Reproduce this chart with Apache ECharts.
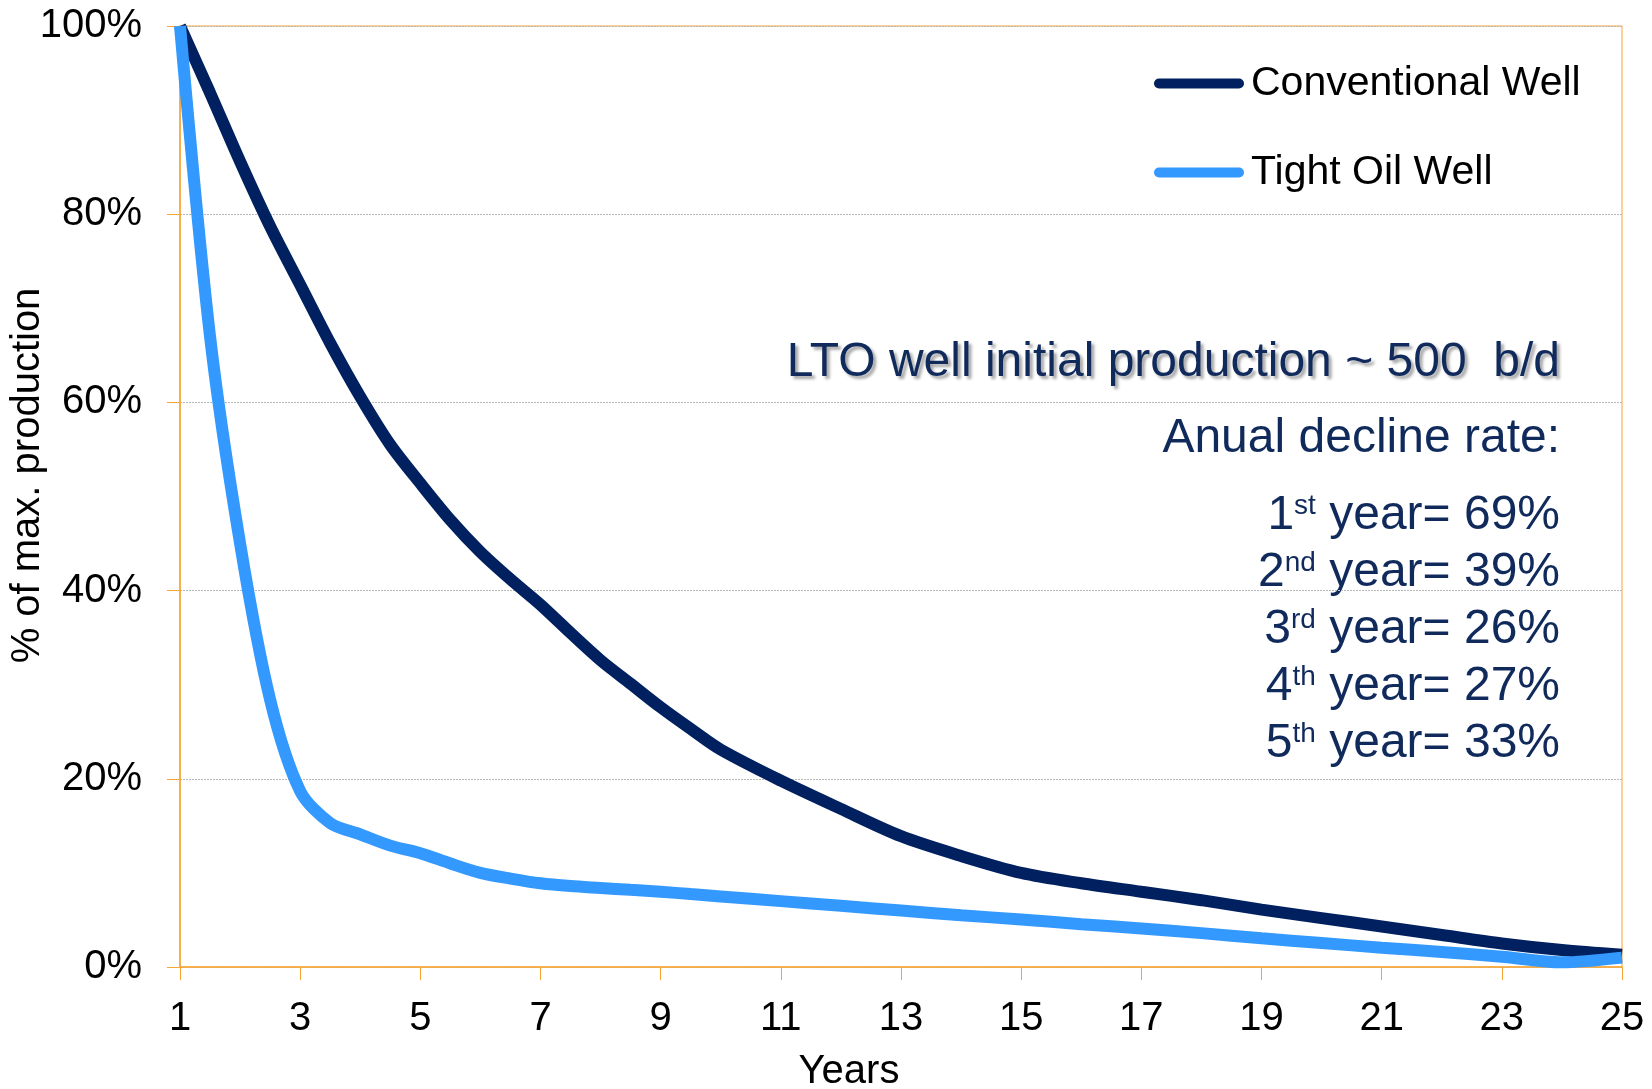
<!DOCTYPE html>
<html>
<head>
<meta charset="utf-8">
<script src="https://cdn.jsdelivr.net/npm/echarts@6/dist/echarts.min.js"></script>
<style>
  html, body { margin: 0; padding: 0; background: #fff; }
  #chart { width: 1652px; height: 1089px; }
</style>
</head>
<body>
<div id="chart"></div>
<script>
// ---- data ----
const years = [1, 1.5, 2, 2.5, 3, 3.5, 4, 4.5, 5, 5.5, 6, 6.5, 7, 7.5, 8, 8.5, 9, 9.5, 10,
               11, 12, 13, 14, 15, 16, 17, 18, 19, 20, 21, 22, 23, 24, 25];
const conventionalWell = [100, 92.9, 85.6, 78.7, 72.5, 66.3, 60.6, 55.5, 51.4, 47.5, 44.1, 41.2, 38.5, 35.5, 32.6, 30.1, 27.6, 25.3, 23.1,
               19.8, 16.8, 13.9, 11.8, 10.0, 8.9, 8.0, 7.1, 6.1, 5.2, 4.3, 3.4, 2.5, 1.8, 1.3];
const tightOilWell = [100, 67, 45, 28.4, 18.7, 15.3, 14.1, 12.9, 12.1, 11.0, 10.0, 9.4, 8.9, 8.6, 8.4, 8.2, 8.0, 7.75, 7.5,
               7.0, 6.5, 6.0, 5.5, 5.05, 4.55, 4.1, 3.6, 3.05, 2.55, 2.05, 1.6, 1.1, 0.5, 1.0];
const xTickYears = [1, 3, 5, 7, 9, 11, 13, 15, 17, 19, 21, 23, 25];
const seriesNames = ['Conventional Well', 'Tight Oil Well'];
const noteTitle = 'LTO well initial production ~ 500  b/d';
const noteSub = 'Anual decline rate:';
const declineOrd = ['1', '2', '3', '4', '5'];
const declineSup = ['st', 'nd', 'rd', 'th', 'th'];
const declineRate = [69, 39, 26, 27, 33];

const FONT = "'Liberation Sans', Arial, Helvetica, sans-serif";
const ORANGE = '#f9a533';
const NAVY = '#002060';
const BLUE = '#3399ff';
const NOTE = '#112a5c';

const chart = echarts.init(document.getElementById('chart'));

const pairs = (ys) => years.map((x, i) => [x, ys[i]]);

const graphics = [];
graphics.push({
  type: 'text', x: 1560, y: 363,
  style: {
    text: noteTitle, align: 'right', verticalAlign: 'middle',
    font: '48px ' + FONT, fill: NOTE,
    textShadowColor: 'rgba(0,0,0,0.35)', textShadowBlur: 3,
    textShadowOffsetX: 3, textShadowOffsetY: 3
  }
});
graphics.push({
  type: 'text', x: 1560, y: 439,
  style: { text: noteSub, align: 'right', verticalAlign: 'middle', font: '48px ' + FONT, fill: NOTE }
});
const lineY = [514, 571, 628, 685, 742];
declineOrd.forEach((o, i) => {
  graphics.push({
    type: 'text', x: 1560, y: lineY[i] + 2,
    style: {
      text: '{n|' + o + '}{s|' + declineSup[i] + '}{n| year= ' + declineRate[i] + '%}',
      align: 'right', verticalAlign: 'middle',
      rich: {
        n: { fontSize: 48, fontFamily: FONT, fill: NOTE, color: NOTE, lineHeight: 48 },
        s: { fontSize: 28, fontFamily: FONT, fill: NOTE, color: NOTE, verticalAlign: 'top', lineHeight: 28 }
      }
    }
  });
});

const capsule = 'path://M5,0 L85,0 A5,5 0 0 1 85,10 L5,10 A5,5 0 0 1 5,0 Z';

const option = {
  backgroundColor: '#ffffff',
  animation: false,
  grid: {
    left: 180, right: 30, top: 26, bottom: 122,
    outerBoundsMode: 'none', containLabel: false,
    show: true, borderColor: ORANGE, borderWidth: 1, backgroundColor: 'transparent'
  },
  legend: {
    orient: 'vertical',
    left: 1149, top: 58,
    icon: capsule,
    itemWidth: 90, itemHeight: 10, itemGap: 48,
    textStyle: { fontSize: 41, fontFamily: FONT, color: '#000', padding: [0, 0, 0, 2] },
    data: seriesNames
  },
  xAxis: {
    type: 'value', min: 1, max: 25,
    name: 'Years', nameLocation: 'middle', nameGap: 85, nameMoveOverlap: false,
    nameTextStyle: { fontSize: 40, fontFamily: FONT, color: '#000', padding: [0, 104, 0, 0] },
    axisLine: { show: true, lineStyle: { color: ORANGE, width: 1.5 } },
    axisTick: { show: true, length: 13, lineStyle: { color: ORANGE, width: 1 }, customValues: xTickYears },
    axisLabel: { fontSize: 40, fontFamily: FONT, color: '#000', margin: 32, customValues: xTickYears },
    splitLine: { show: false }
  },
  yAxis: {
    type: 'value', min: 0, max: 100, interval: 20,
    name: '% of max. production', nameLocation: 'middle', nameGap: 132, nameMoveOverlap: false,
    nameTextStyle: { fontSize: 40, fontFamily: FONT, color: '#000', padding: [0, 0, 0, 42] },
    axisLine: { show: true, lineStyle: { color: ORANGE, width: 1.5 } },
    axisTick: { show: true, length: 13, lineStyle: { color: ORANGE, width: 1 } },
    axisLabel: { fontSize: 40, fontFamily: FONT, color: '#000', margin: 38, formatter: '{value}%' },
    splitLine: { show: true, lineStyle: { color: '#b8b8b8', width: 1, type: [2, 1] } }
  },
  series: [
    {
      name: seriesNames[0], type: 'line', data: pairs(conventionalWell),
      symbol: 'none', smooth: 0.3, z: 2,
      lineStyle: { color: NAVY, width: 12 }, itemStyle: { color: NAVY }
    },
    {
      name: seriesNames[1], type: 'line', data: pairs(tightOilWell),
      symbol: 'none', smooth: 0.3, z: 3,
      lineStyle: { color: BLUE, width: 12 }, itemStyle: { color: BLUE }
    }
  ],
  graphic: graphics
};
chart.setOption(option);
</script>
</body>
</html>
